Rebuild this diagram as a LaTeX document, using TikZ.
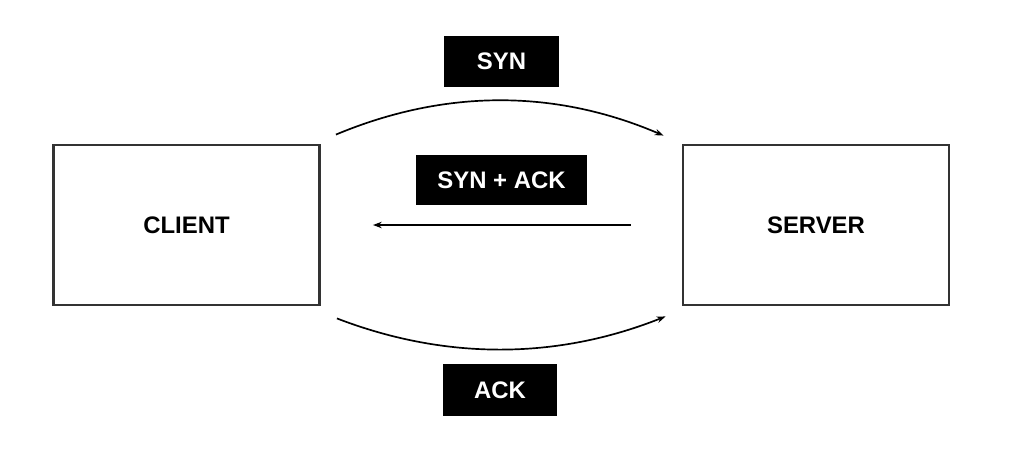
\documentclass[tikz,border=0pt]{standalone}
\usepackage{fontspec}
\setmainfont{Liberation Sans}
\usetikzlibrary{arrows.meta}
\begin{document}
\begin{tikzpicture}[x=0.025cm,y=-0.025cm,
  hostbox/.style={draw=black!80,line width=2pt,minimum width=6.65cm,minimum height=4cm,inner sep=0pt,font=\fontsize{17}{20}\selectfont\bfseries},
  tag/.style={fill=black,text=white,inner sep=0pt,font=\fontsize{17}{20}\selectfont\bfseries},
  msg/.style={line width=1.2pt,-{Stealth[length=2.2mm,width=1.6mm]}}]
\useasboundingbox (0,0) rectangle (1011,453);
\node[hostbox] (client) at (186.5,225) {CLIENT};
\node[hostbox] (server) at (816,225) {SERVER};
\node[tag,minimum width=2.875cm,minimum height=1.275cm] (syn) at (501.5,61.5) {SYN};
\node[tag,minimum width=4.275cm,minimum height=1.25cm] (synack) at (501.5,180) {SYN + ACK};
\node[tag,minimum width=2.85cm,minimum height=1.3cm] (ack) at (500,390) {ACK};
\draw[msg] ([shift={(15,-9)}]client.north east) .. controls (445,89) and (555,89) .. ([shift={(-18,-8)}]server.north west);
\draw[msg,line width=1pt] ([shift={(-51,0)}]server.west) -- ([shift={(52,0)}]client.east);
\draw[msg] ([shift={(16,12)}]client.south east) .. controls (445,360) and (556,360) .. ([shift={(-16,10)}]server.south west);
\end{tikzpicture}
\end{document}
